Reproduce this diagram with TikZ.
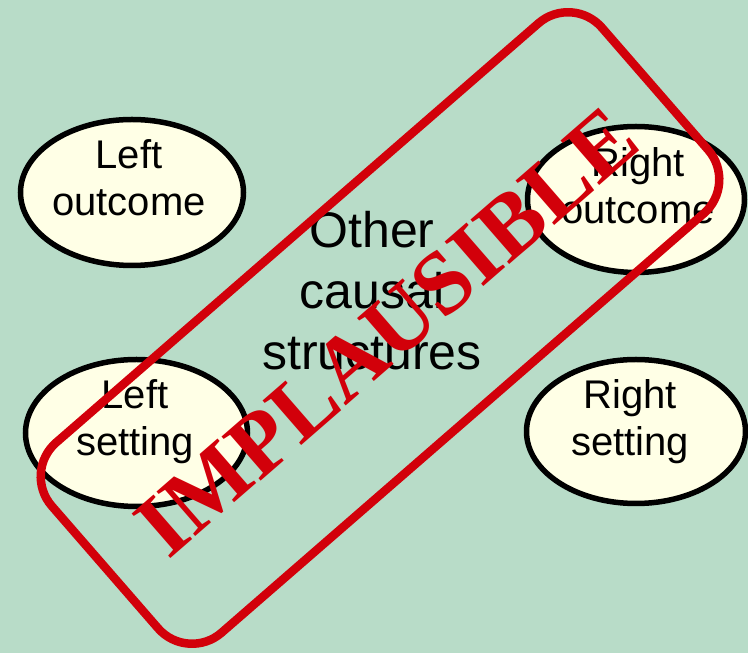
\documentclass[tikz,border=0pt]{standalone}
\usepackage{fontspec}
\setmainfont{Liberation Sans}
\newfontfamily\stampfont{Liberation Serif}
\usetikzlibrary{shapes.geometric}
\definecolor{bgmint}{RGB}{184,220,200}
\definecolor{cream}{RGB}{255,255,230}
\definecolor{stampred}{RGB}{210,0,10}
\begin{document}
\begin{tikzpicture}[x=1pt,y=1pt,
  oval/.style={ellipse, draw=black, line width=5.5pt, fill=cream, inner sep=0pt},
  lbl/.style={align=center, anchor=base, inner sep=0pt, text=black,
    font=\fontsize{40}{47}\selectfont},
  biglbl/.style={align=center, anchor=base, inner sep=0pt, text=black,
    font=\fontsize{50}{61}\selectfont},
  stampbox/.style={rectangle, draw=stampred, line width=8.5pt, rounded corners=45pt,
    minimum width=729pt, minimum height=252pt, rotate=41, inner sep=0pt},
  stamptext/.style={text=stampred, rotate=41, inner sep=0pt,
    font=\stampfont\bfseries\fontsize{90}{90}\selectfont}]
\useasboundingbox (0,0) rectangle (748,653);
\fill[bgmint] (0,0) rectangle (748,653);
% ellipses
\node[oval, minimum width=223pt, minimum height=146pt] (lo) at (132,460.5) {};
\node[oval, minimum width=217pt, minimum height=146pt] (ro) at (636,453.5) {};
\node[oval, minimum width=222pt, minimum height=147pt] (ls) at (136.5,220) {};
\node[oval, minimum width=219pt, minimum height=144pt] (rs) at (636,221.5) {};
% labels
\node[lbl] (lot) at (129,437) {Left\\outcome};
\node[lbl] (rot) at (638,429) {Right\\outcome};
\node[lbl] (lst) at (135,197) {Left\\setting};
\node[lbl] (rst) at (630,197) {Right\\setting};
\node[biglbl] (other) at (372,283) {Other\\causal\\structures};
% stamp
\node[stampbox] (stamp) at (380,325) {};
\node[stamptext] (stampword) at (387,321) {IMPLAUSIBLE};
\end{tikzpicture}
\end{document}
